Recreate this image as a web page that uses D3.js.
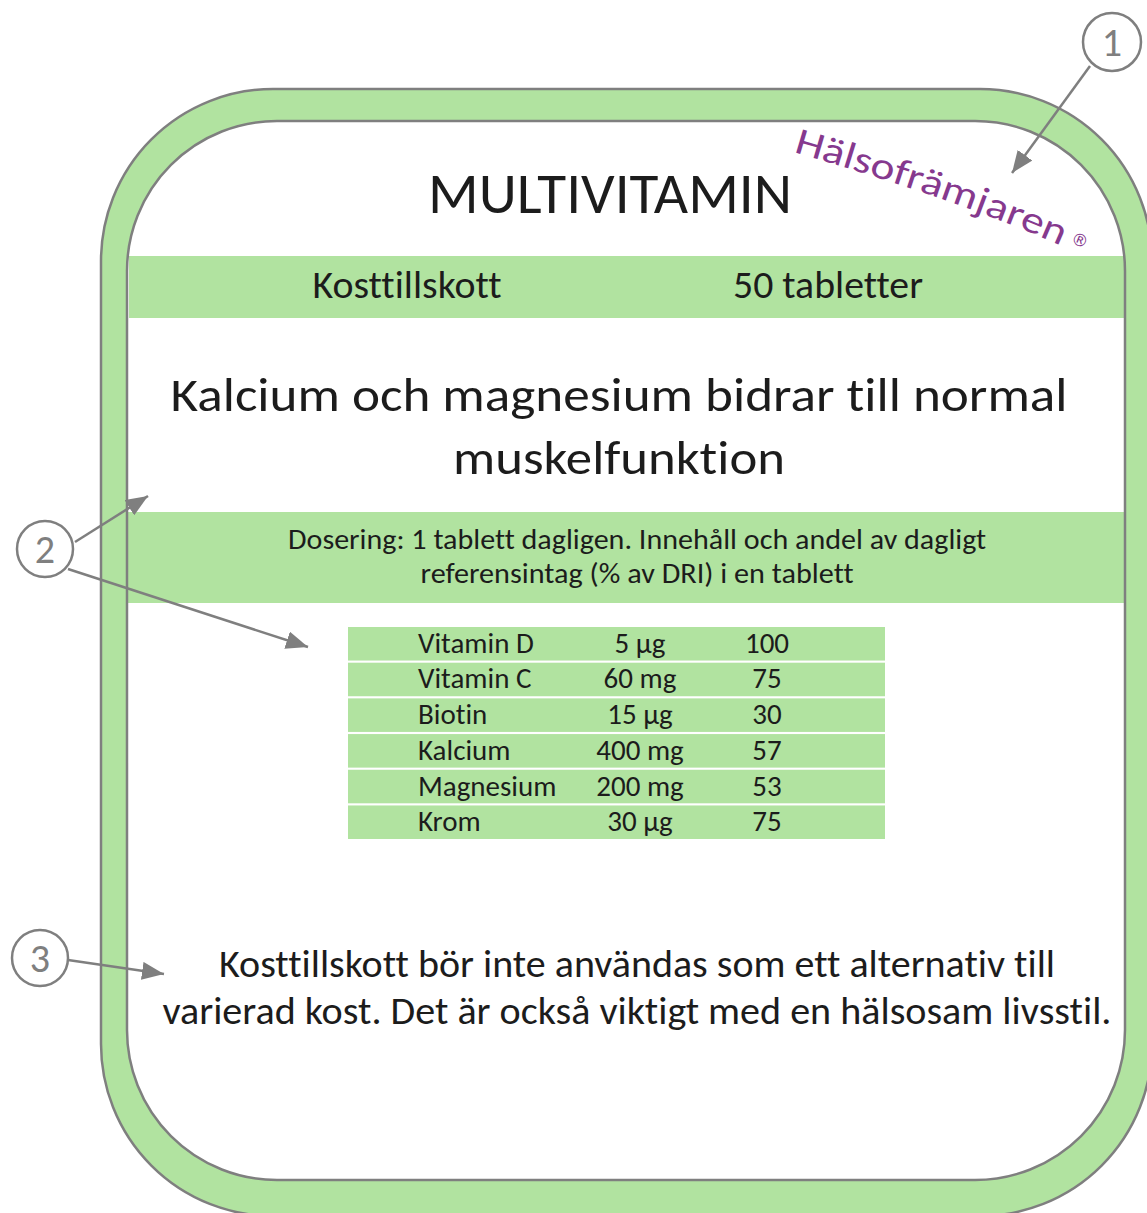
<!DOCTYPE html>
<html>
<head>
<meta charset="utf-8">
<script src="https://cdn.jsdelivr.net/npm/d3@7"></script>
<style>
	body { margin: 0; background: #ffffff; }
	svg { display: block; }
	text { font-family: Carlito, Calibri, Lato, "Open Sans", sans-serif; font-variant-ligatures: none; font-feature-settings: "liga" 0, "clig" 0; }
	text.text_class_reg { font-family: "DejaVu Sans", sans-serif; }
</style>
</head>
<body>
<div id="div_id_main"></div>
<script>

var MAIN_WIDTH = 1147;
var MAIN_HEIGHT = 1213;

var COLOR_GREEN = "#b1e3a0";
var COLOR_GRAY = "#7f7f7f";
var COLOR_TEXT = "#1c1c1c";
var COLOR_BRAND = "#86398e";

// ---------------------------------------------------------------
// data

var vsNutrients = ["Vitamin D", "Vitamin C", "Biotin", "Kalcium", "Magnesium", "Krom"];
var vsAmounts = ["5 µg", "60 mg", "15 µg", "400 mg", "200 mg", "30 µg"];
var vnDRI = [100, 75, 30, 57, 53, 75];

var sTitle = "MULTIVITAMIN";
var sBrand = "Hälsofrämjaren";
var vsHeaderBand = ["Kosttillskott", "50 tabletter"];
var vsClaim = ["Kalcium och magnesium bidrar till normal", "muskelfunktion"];
var vsDosage = ["Dosering: 1 tablett dagligen. Innehåll och andel av dagligt", "referensintag (% av DRI) i en tablett"];
var vsFooter = ["Kosttillskott bör inte användas som ett alternativ till", "varierad kost. Det är också viktigt med en hälsosam livsstil."];
var vsCallouts = ["1", "2", "3"];

// ---------------------------------------------------------------

function funcRoundRect(p, x0, y0, x1, y1, r) {

	p.moveTo(x0 + r, y0);
	p.lineTo(x1 - r, y0);
	p.arcTo(x1, y0, x1, y0 + r, r);
	p.lineTo(x1, y1 - r);
	p.arcTo(x1, y1, x1 - r, y1, r);
	p.lineTo(x0 + r, y1);
	p.arcTo(x0, y1, x0, y1 - r, r);
	p.lineTo(x0, y0 + r);
	p.arcTo(x0, y0, x0 + r, y0, r);
	p.closePath();
}

function funcText(g, s, x, y, size, width, anchor) {

	let t = g.append("text")
				.attr("x", x)
				.attr("y", y)
				.attr("font-size", size)
				.attr("fill", COLOR_TEXT)
				.attr("text-anchor", anchor || "middle")
				.text(s);

	if (width)
		t.attr("textLength", width).attr("lengthAdjust", "spacingAndGlyphs");

	return t;
}

function funcDraw_Main() {

	let svgMain = d3.select("#div_id_main")
					.append("svg")
						.attr("id", "svg_id_main")
						.attr("width", MAIN_WIDTH)
						.attr("height", MAIN_HEIGHT);

	svgMain.append("rect")
				.attr("width", MAIN_WIDTH)
				.attr("height", MAIN_HEIGHT)
				.attr("fill", "#ffffff");

	let defs = svgMain.append("defs");

	defs.append("marker")
			.attr("id", "marker_id_arrow")
			.attr("markerUnits", "userSpaceOnUse")
			.attr("viewBox", "0 0 22 18")
			.attr("refX", 22)
			.attr("refY", 9)
			.attr("markerWidth", 22)
			.attr("markerHeight", 18)
			.attr("orient", "auto")
		.append("path")
			.attr("d", "M0,0 L22,9 L0,18 Z")
			.attr("fill", COLOR_GRAY);

	funcDraw_Bands(svgMain);
	funcDraw_Ring(svgMain);
	funcDraw_Texts(svgMain);
	funcDraw_Table(svgMain);
	funcDraw_Brand(svgMain, defs);
	funcDraw_Callouts(svgMain);
}

function funcDraw_Bands(svgMain) {

	svgMain.append("rect")
				.attr("x", 129).attr("y", 256)
				.attr("width", 996).attr("height", 62)
				.attr("fill", COLOR_GREEN);

	svgMain.append("rect")
				.attr("x", 127).attr("y", 512)
				.attr("width", 998).attr("height", 91)
				.attr("fill", COLOR_GREEN);
}

function funcDraw_Ring(svgMain) {

	let pOuter = d3.path();
	funcRoundRect(pOuter, 101, 89, 1152, 1216, 172);

	let pInner = d3.path();
	funcRoundRect(pInner, 127, 121, 1125, 1180, 150);

	svgMain.append("path")
				.attr("d", pOuter.toString() + pInner.toString())
				.attr("fill", COLOR_GREEN)
				.attr("fill-rule", "evenodd")
				.attr("stroke", COLOR_GRAY)
				.attr("stroke-width", 2.5);
}

function funcDraw_Texts(svgMain) {

	let g = svgMain.append("g");

	funcText(g, sTitle, 610, 213, 57, 364);

	funcText(g, vsHeaderBand[0], 407, 298, 38, 189);
	funcText(g, vsHeaderBand[1], 828, 298, 38, 190);

	funcText(g, vsClaim[0], 619, 411, 47, 897);
	funcText(g, vsClaim[1], 619, 474, 47, 332);

	funcText(g, vsDosage[0], 637, 549, 28, 698);
	funcText(g, vsDosage[1], 637, 583, 28, 433);

	funcText(g, vsFooter[0], 637, 977, 38, 836);
	funcText(g, vsFooter[1], 637, 1024, 38, 949);
}

function funcDraw_Table(svgMain) {

	let fScale_Row = d3.scaleBand()
							.domain(vsNutrients)
							.range([627, 839])
							.paddingInner(0.06);

	let g = svgMain.append("g");

	g.selectAll("rect.rect_class_row")
		.data(vsNutrients)
		.enter()
		.append("rect")
			.attr("class", "rect_class_row")
			.attr("x", 348)
			.attr("y", function (d) { return fScale_Row(d); })
			.attr("width", 537)
			.attr("height", fScale_Row.bandwidth())
			.attr("fill", COLOR_GREEN);

	vsNutrients.forEach(function (d, i) {

		let y = fScale_Row(d) + fScale_Row.bandwidth() / 2 + 9;

		funcText(g, d, 418, y, 29, null, "start");
		funcText(g, vsAmounts[i], 640, y, 29);
		funcText(g, String(vnDRI[i]), 767, y, 29);
	});
}

function funcDraw_Brand(svgMain, defs) {

	defs.append("path")
			.attr("id", "path_id_brand")
			.attr("d", "M793,152 Q966,202 1075,252");

	svgMain.append("text")
				.attr("font-size", 38)
				.attr("fill", COLOR_BRAND)
			.append("textPath")
				.attr("href", "#path_id_brand")
				.attr("textLength", 284)
				.attr("lengthAdjust", "spacingAndGlyphs")
				.text(sBrand);

	svgMain.append("text")
				.attr("class", "text_class_reg")
				.attr("x", 1080)
				.attr("y", 246)
				.attr("font-size", 17)
				.attr("fill", COLOR_BRAND)
				.attr("text-anchor", "middle")
				.attr("transform", "rotate(22,1080,240)")
				.text("®");
}

function funcDraw_Callouts(svgMain) {

	let vCircles = [
		{ cx: 1112, cy: 42, r: 29 },
		{ cx: 45, cy: 549, r: 28 },
		{ cx: 40, cy: 958, r: 28 }
	];

	let vArrows = [
		[1090, 66, 1012, 173],
		[75, 542, 148, 496],
		[68, 569, 308, 647],
		[68, 960, 164, 974]
	];

	svgMain.selectAll("line.line_class_arrow")
		.data(vArrows)
		.enter()
		.append("line")
			.attr("class", "line_class_arrow")
			.attr("x1", function (d) { return d[0]; })
			.attr("y1", function (d) { return d[1]; })
			.attr("x2", function (d) { return d[2]; })
			.attr("y2", function (d) { return d[3]; })
			.attr("stroke", COLOR_GRAY)
			.attr("stroke-width", 2.5)
			.attr("marker-end", "url(#marker_id_arrow)");

	let gCircles = svgMain.selectAll("g.g_class_callout")
		.data(vCircles)
		.enter()
		.append("g")
			.attr("class", "g_class_callout");

	gCircles.append("circle")
			.attr("cx", function (d) { return d.cx; })
			.attr("cy", function (d) { return d.cy; })
			.attr("r", function (d) { return d.r; })
			.attr("fill", "#ffffff")
			.attr("stroke", COLOR_GRAY)
			.attr("stroke-width", 2.5);

	gCircles.append("text")
			.attr("x", function (d) { return d.cx; })
			.attr("y", function (d) { return d.cy + 14; })
			.attr("font-size", 40)
			.attr("fill", COLOR_GRAY)
			.attr("text-anchor", "middle")
			.text(function (d, i) { return vsCallouts[i]; });
}

funcDraw_Main();

</script>
</body>
</html>
